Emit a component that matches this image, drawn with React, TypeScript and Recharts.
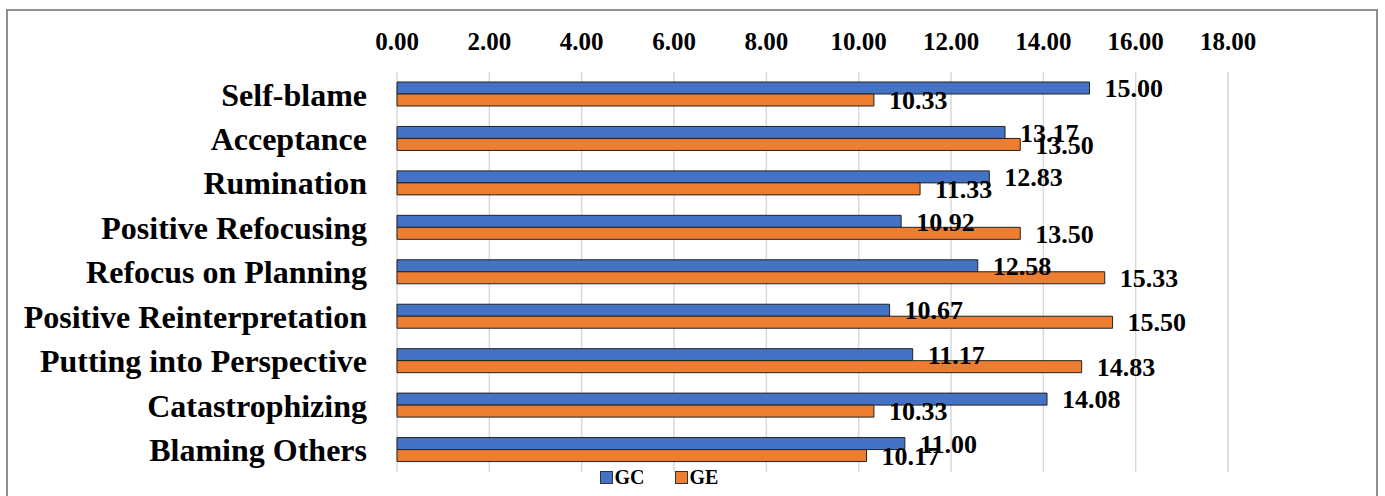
import React from 'react';
import { BarChart, Bar, XAxis, YAxis, CartesianGrid, Legend, LabelList } from 'recharts';

const categories = [
  'Self-blame',
  'Acceptance',
  'Rumination',
  'Positive Refocusing',
  'Refocus on Planning',
  'Positive Reinterpretation',
  'Putting into Perspective',
  'Catastrophizing',
  'Blaming Others',
];
const gcValues = [15.0, 13.17, 12.83, 10.92, 12.58, 10.67, 11.17, 14.08, 11.0];
const geValues = [10.33, 13.5, 11.33, 13.5, 15.33, 15.5, 14.83, 10.33, 10.17];
const xTicks = [0, 2, 4, 6, 8, 10, 12, 14, 16, 18];
const seriesNames = ['GC', 'GE'];
const seriesColors = ['#4472C4', '#ED7D31'];

const data = categories.map((c, i) => ({ name: c, GC: gcValues[i], GE: geValues[i] }));

const FONT = '"Liberation Serif", "Times New Roman", serif';

const LegendContent = () => (
  <div style={{ display: 'flex', justifyContent: 'center', alignItems: 'center', fontFamily: FONT, fontWeight: 'bold', fontSize: 20, height: 20 }}>
    {seriesNames.map((n, i) => (
      <div key={n} style={{ display: 'flex', alignItems: 'center', marginRight: i === 0 ? 30 : 0 }}>
        <span style={{ display: 'inline-block', width: 11, height: 11, background: seriesColors[i], border: '1px solid #333', marginRight: 2 }} />
        <span style={{ color: '#000' }}>{n}</span>
      </div>
    ))}
  </div>
);

export default function App() {
  return (
    <div style={{ position: 'absolute', left: 0, top: 0, width: 1385, height: 496, background: '#fff', overflow: 'hidden' }}>
      <div style={{ position: 'absolute', left: 6, top: 9, width: 1372, height: 500, border: '2px solid #8f8f8f', boxSizing: 'border-box' }} />
      <div style={{ position: 'absolute', left: 0, top: 0 }}>
        <BarChart
          width={1385}
          height={496}
          data={data}
          layout="vertical"
          margin={{ top: 0, right: 157, bottom: 4, left: 0 }}
          barGap={0}
          barSize={12}
        >
          <CartesianGrid horizontal={false} vertical={true} stroke="#d9d9d9" strokeWidth={1.5} />
          <XAxis
            type="number"
            orientation="top"
            domain={[0, 18]}
            ticks={xTicks}
            tickFormatter={(v: number) => v.toFixed(2)}
            axisLine={false}
            tickLine={false}
            tickSize={0}
            tickMargin={22}
            height={72}
            tick={{ fontFamily: FONT, fontWeight: 'bold', fontSize: 25, fill: '#000' }}
            interval={0}
          />
          <YAxis
            type="category"
            dataKey="name"
            width={397}
            axisLine={false}
            tickLine={false}
            tickSize={0}
            tickMargin={30}
            interval={0}
            tick={{ fontFamily: FONT, fontWeight: 'bold', fontSize: 32, fill: '#000' }}
          />
          <Legend
            verticalAlign="bottom"
            content={<LegendContent />}
            wrapperStyle={{ left: 0, width: 1318, bottom: 9 }}
          />
          <Bar dataKey="GC" fill={seriesColors[0]} stroke="#222" strokeWidth={1} isAnimationActive={false}>
            <LabelList
              dataKey="GC"
              position="right"
              offset={15}
              formatter={(v: number) => v.toFixed(2)}
              style={{ fontFamily: FONT, fontWeight: 'bold', fontSize: 26, fill: '#000' }}
            />
          </Bar>
          <Bar dataKey="GE" fill={seriesColors[1]} stroke="#222" strokeWidth={1} isAnimationActive={false}>
            <LabelList
              dataKey="GE"
              position="right"
              offset={15}
              formatter={(v: number) => v.toFixed(2)}
              style={{ fontFamily: FONT, fontWeight: 'bold', fontSize: 26, fill: '#000' }}
            />
          </Bar>
        </BarChart>
      </div>
    </div>
  );
}
